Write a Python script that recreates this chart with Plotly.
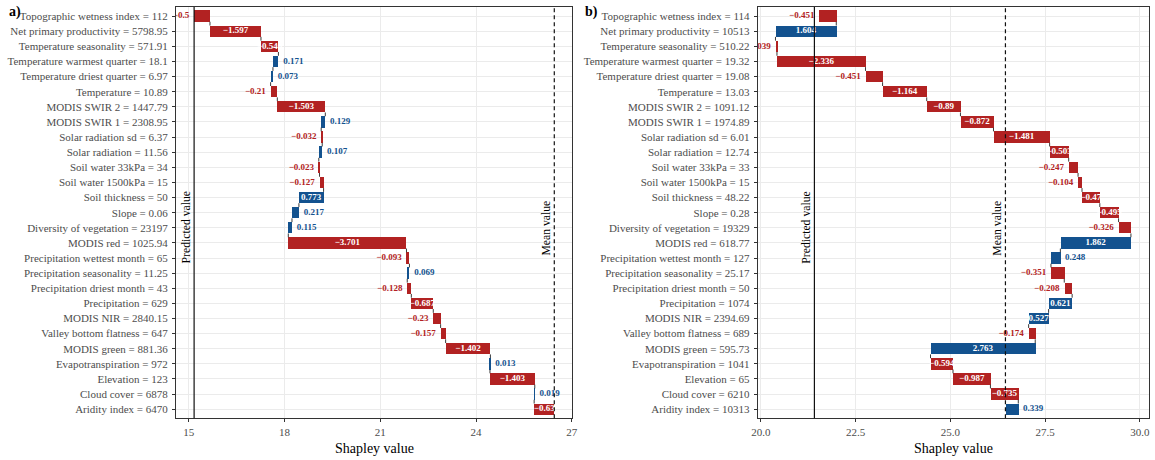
import plotly.graph_objects as go

# Features, listed top to bottom
features = [
    "Topographic wetness index", "Net primary productivity", "Temperature seasonality",
    "Temperature warmest quarter", "Temperature driest quarter", "Temperature",
    "MODIS SWIR 2", "MODIS SWIR 1", "Solar radiation sd", "Solar radiation",
    "Soil water 33kPa", "Soil water 1500kPa", "Soil thickness", "Slope",
    "Diversity of vegetation", "MODIS red", "Precipitation wettest month",
    "Precipitation seasonality", "Precipitation driest month", "Precipitation",
    "MODIS NIR", "Valley bottom flatness", "MODIS green", "Evapotranspiration",
    "Elevation", "Cloud cover", "Aridity index",
]

# Panel a) observation
a_feature_values = ["112", "5798.95", "571.91", "18.1", "6.97", "10.89", "1447.79",
                    "2308.95", "6.37", "11.56", "34", "15", "50", "0.06", "23197",
                    "1025.94", "65", "11.25", "43", "629", "2840.15", "647", "881.36",
                    "972", "123", "6878", "6470"]
a_shap = [-0.5, -1.597, -0.546, 0.171, 0.073, -0.21, -1.503, 0.129, -0.032, 0.107,
          -0.023, -0.127, 0.773, 0.217, 0.115, -3.701, -0.093, 0.069, -0.128, -0.687,
          -0.23, -0.157, -1.402, 0.013, -1.403, 0.019, -0.63]
a_predicted = 15.17

# Panel b) observation
b_feature_values = ["114", "10513", "510.22", "19.32", "19.08", "13.03", "1091.12",
                    "1974.89", "6.01", "12.74", "33", "15", "48.22", "0.28", "19329",
                    "618.77", "127", "25.17", "50", "1074", "2394.69", "689", "595.73",
                    "1041", "65", "6210", "10313"]
b_shap = [-0.451, 1.604, -0.039, -2.336, -0.451, -1.164, -0.89, -0.872, -1.481, -0.503,
          -0.247, -0.104, -0.47, -0.495, -0.326, 1.862, 0.248, -0.351, -0.208, 0.621,
          0.527, -0.174, 2.763, -0.594, -0.987, -0.735, 0.339]
b_predicted = 21.41

mean_value = 26.45

RED = "#B22222"
BLUE = "#13528F"
SERIF = "Liberation Serif"
BAR_W = 0.75

panels = [
    dict(tag="a)", vals=a_feature_values, shap=a_shap, pred=a_predicted,
         xdom=[0.15238, 0.49550], ticks=[15, 18, 21, 24, 27],
         ticktext=["15", "18", "21", "24", "27"], inside=0.52, tagx=9 / 1155),
    dict(tag="b)", vals=b_feature_values, shap=b_shap, pred=b_predicted,
         xdom=[0.65602, 0.99455], ticks=[20, 22.5, 25, 27.5, 30],
         ticktext=["20.0", "22.5", "25.0", "27.5", "30.0"], inside=0.46, tagx=585 / 1155),
]
YDOM = [0.09065, 0.98478]


def fmt(v):
    s = f"{v:.3f}".rstrip("0").rstrip(".")
    return s.replace("-", "\u2212")


fig = go.Figure()
n = len(features)

for i, p in enumerate(panels):
    xa = "x" if i == 0 else "x2"
    ya = "y" if i == 0 else "y2"
    # walk from the bottom row (mean value) upwards
    shap_bt = p["shap"][::-1]
    ypos = list(range(n))
    base, ends = [], []
    cum = mean_value
    for v in shap_bt:
        base.append(cum)
        cum += v
        ends.append(cum)
    colors = [RED if v < 0 else BLUE for v in shap_bt]

    fig.add_trace(go.Bar(
        orientation="h", y=ypos, x=shap_bt, base=base, width=BAR_W,
        marker=dict(color=colors, line=dict(width=0)),
        xaxis=xa, yaxis=ya, hoverinfo="skip", showlegend=False,
    ))

    # connectors between consecutive bars
    cx, cy = [], []
    for k in range(n - 1):
        cx += [ends[k], ends[k], None]
        cy += [k + BAR_W / 2, k + 1 - BAR_W / 2, None]
    fig.add_trace(go.Scatter(
        x=cx, y=cy, mode="lines", line=dict(color="#3a3a3a", width=1),
        xaxis=xa, yaxis=ya, hoverinfo="skip", showlegend=False,
    ))

    # labels: inside wide bars, beside narrow ones
    in_x, in_y, in_t = [], [], []
    lx, ly, lt, lc = [], [], [], []
    rx, ry, rt, rc = [], [], [], []
    for k, v in enumerate(shap_bt):
        lo, hi = min(base[k], ends[k]), max(base[k], ends[k])
        if abs(v) >= p["inside"]:
            in_x.append((lo + hi) / 2); in_y.append(k); in_t.append(fmt(v))
        elif v < 0:
            lx.append(lo); ly.append(k); lt.append(fmt(v)); lc.append(RED)
        else:
            rx.append(hi); ry.append(k); rt.append(fmt(v)); rc.append(BLUE)
    lab_font = dict(family=SERIF, size=9, weight="bold")
    fig.add_trace(go.Scatter(
        x=in_x, y=in_y, text=in_t, mode="text", textposition="middle center",
        textfont=dict(color="white", **lab_font), cliponaxis=True,
        xaxis=xa, yaxis=ya, hoverinfo="skip", showlegend=False,
    ))
    fig.add_trace(go.Scatter(
        x=lx, y=ly, text=lt, mode="markers+text", textposition="middle left",
        marker=dict(size=6, color="rgba(0,0,0,0)"),
        textfont=dict(color=lc, **lab_font), cliponaxis=True,
        xaxis=xa, yaxis=ya, hoverinfo="skip", showlegend=False,
    ))
    fig.add_trace(go.Scatter(
        x=rx, y=ry, text=rt, mode="markers+text", textposition="middle right",
        marker=dict(size=6, color="rgba(0,0,0,0)"),
        textfont=dict(color=rc, **lab_font), cliponaxis=True,
        xaxis=xa, yaxis=ya, hoverinfo="skip", showlegend=False,
    ))

    # axis range with 5% padding around all drawn values
    allx = base + ends + [p["pred"], mean_value]
    lo, hi = min(allx), max(allx)
    pad = 0.05 * (hi - lo)
    xr = [lo - pad, hi + pad]

    ticktext_y = [f"{features[j]} = {p['vals'][j]}" for j in range(n)][::-1]

    axis_common = dict(
        showline=True, linecolor="#333333", linewidth=1, mirror=True,
        ticks="outside", ticklen=3, tickwidth=1, tickcolor="#333333",
        showgrid=True, gridcolor="#EBEBEB", gridwidth=1, zeroline=False,
        automargin=False,
        tickfont=dict(family=SERIF, size=11, color="#4D4D4D"),
    )
    xkey = "xaxis" if i == 0 else "xaxis2"
    ykey = "yaxis" if i == 0 else "yaxis2"
    fig.update_layout({
        xkey: dict(domain=p["xdom"], range=xr, anchor=ya, tickvals=p["ticks"],
                   ticktext=p["ticktext"], **axis_common),
        ykey: dict(domain=YDOM, range=[-0.6, n - 0.4], anchor=xa,
                   tickvals=ypos, ticktext=ticktext_y, ticklabelstandoff=2,
                   **axis_common),
    })

    # reference lines
    fig.add_shape(type="line", xref=xa, yref=f"{ya} domain", x0=p["pred"], x1=p["pred"],
                  y0=0, y1=1, line=dict(color="#111111", width=1.2))
    fig.add_shape(type="line", xref=xa, yref=f"{ya} domain", x0=mean_value, x1=mean_value,
                  y0=0, y1=1, line=dict(color="#111111", width=1.2, dash="4px,3px"))

    mid_row = n - 1 - features.index("Diversity of vegetation")
    for xv, txt in [(p["pred"], "Predicted value"), (mean_value, "Mean value")]:
        fig.add_annotation(x=xv, y=mid_row, xref=xa, yref=ya, text=txt, textangle=-90,
                           showarrow=False, xanchor="right", yanchor="middle", xshift=-1,
                           borderpad=0, borderwidth=0,
                           font=dict(family=SERIF, size=11.7, color="black"))

    # axis title and panel tag
    fig.add_annotation(x=sum(p["xdom"]) / 2, y=(460 - 448) / 460, xref="paper", yref="paper",
                       text="Shapley value", showarrow=False, xanchor="center",
                       yanchor="middle", font=dict(family=SERIF, size=14, color="black"))
    fig.add_annotation(x=p["tagx"], y=(460 - 12) / 460, xref="paper", yref="paper",
                       text="<b>" + p["tag"] + "</b>", showarrow=False, xanchor="left",
                       yanchor="middle", borderpad=0, borderwidth=0,
                       font=dict(family=SERIF, size=14, color="black"))

fig.update_layout(
    width=1155, height=460, margin=dict(l=0, r=0, t=0, b=0),
    paper_bgcolor="white", plot_bgcolor="white", bargap=0, showlegend=False,
)

fig.write_html("out.html")
